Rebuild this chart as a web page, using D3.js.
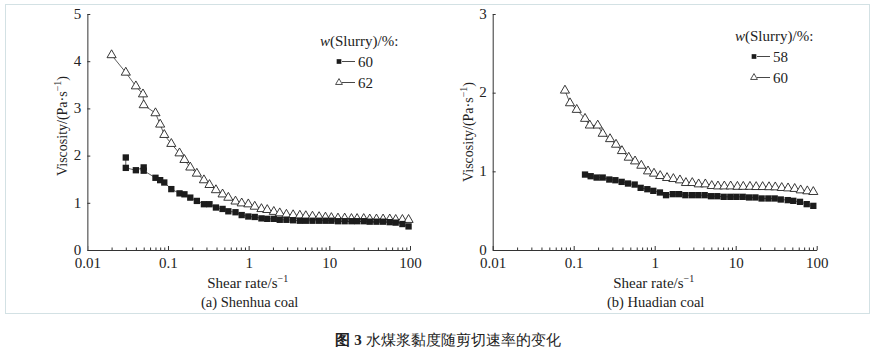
<!DOCTYPE html>
<html><head><meta charset="utf-8">
<script src="https://cdn.jsdelivr.net/npm/d3@7"></script>
<style>
body{margin:0;background:#fff}
svg{display:block}
text{font-family:"Liberation Serif","Times New Roman",serif;fill:#222}
</style>
</head><body>
<svg id="c" width="882" height="355"></svg>
<script>
// ---- data ----
// (a) Shenhua coal, w = 60 %
const shearA60 = [0.03,0.03,0.04,0.05,0.05,0.07,0.08,0.09,0.11,0.139,0.16,0.189,0.228,0.279,0.327,0.393,0.475,0.56,0.687,0.82,0.99,1.19,1.44,1.70,2.05,2.43,2.94,3.56,4.31,5.11,6.18,7.47,8.95,10.6,12.8,15.5,18.8,22.1,26.7,31.7,38.4,46.4,56.1,66.5,80.5,96];
const viscA60  = [1.96,1.74,1.69,1.75,1.68,1.53,1.48,1.43,1.29,1.20,1.18,1.11,1.04,0.97,0.97,0.90,0.87,0.82,0.80,0.74,0.71,0.70,0.67,0.66,0.66,0.64,0.64,0.63,0.62,0.62,0.62,0.62,0.62,0.62,0.61,0.61,0.61,0.61,0.61,0.60,0.60,0.60,0.59,0.58,0.55,0.50];
// (a) Shenhua coal, w = 62 %
const shearA62 = [0.02,0.03,0.04,0.049,0.05,0.07,0.08,0.09,0.11,0.139,0.16,0.189,0.228,0.279,0.327,0.393,0.475,0.56,0.687,0.82,0.99,1.19,1.44,1.70,2.05,2.43,2.94,3.56,4.31,5.11,6.18,7.47,8.95,10.6,12.8,15.5,18.8,22.1,26.7,31.7,38.4,46.4,56.1,66.5,80.5,96];
const viscA62  = [4.13,3.76,3.47,3.30,3.07,2.90,2.66,2.44,2.25,2.05,1.91,1.75,1.62,1.48,1.38,1.27,1.18,1.11,1.03,0.99,0.97,0.92,0.87,0.85,0.81,0.78,0.75,0.74,0.73,0.72,0.71,0.70,0.69,0.68,0.67,0.67,0.66,0.66,0.66,0.65,0.65,0.65,0.65,0.64,0.64,0.64];
// (b) Huadian coal, w = 58 %
const shearB58 = [0.138,0.162,0.192,0.228,0.275,0.327,0.391,0.468,0.566,0.671,0.811,0.961,1.16,1.38,1.67,2.0,2.39,2.88,3.45,4.14,4.95,5.93,7.11,8.58,10.2,12.2,14.6,17.5,20.9,25.3,30.3,36.0,43.9,51.4,62.2,75.3,90.8];
const viscB58  = [0.959,0.938,0.921,0.921,0.896,0.887,0.866,0.845,0.832,0.790,0.773,0.752,0.731,0.697,0.710,0.710,0.697,0.697,0.697,0.697,0.684,0.684,0.676,0.676,0.676,0.676,0.668,0.668,0.655,0.655,0.655,0.642,0.634,0.625,0.612,0.583,0.561];
// (b) Huadian coal, w = 60 %
const shearB60 = [0.078,0.090,0.109,0.138,0.158,0.198,0.228,0.281,0.333,0.394,0.478,0.572,0.684,0.827,0.98,1.17,1.42,1.70,2.05,2.43,2.91,3.49,4.22,5.06,6.04,7.24,8.67,10.5,12.4,15.0,17.9,21.5,25.8,30.8,37.0,44.3,53.5,63.4,76.6,90.8];
const viscB60  = [2.028,1.867,1.783,1.669,1.584,1.584,1.479,1.411,1.340,1.259,1.175,1.128,1.073,1.001,0.972,0.942,0.917,0.904,0.887,0.853,0.853,0.836,0.836,0.815,0.810,0.810,0.810,0.805,0.805,0.805,0.802,0.802,0.800,0.798,0.790,0.785,0.778,0.760,0.748,0.739];

const xTickValues = [0.01,0.1,1,10,100];
const xTickLabels = ["0.01","0.1","1","10","100"];
const yTicksA = [0,1,2,3,4,5];
const yTicksB = [0,1,2,3];
const legendTitle = ["w","(Slurry)/%:"];
const legendA = ["60","62"];
const legendB = ["58","60"];
const xTitle = "Shear rate/s";
const yTitle = "Viscosity/(Pa·s";
const subTitles = ["(a) Shenhua coal","(b) Huadian coal"];
const captionBold = "图 3";
const captionText = "水煤浆黏度随剪切速率的变化";

// ---- drawing ----
const svg = d3.select("#c");
svg.append("rect").attr("x",5.5).attr("y",4.5).attr("width",864).attr("height",309)
  .attr("fill","none").attr("stroke","#d3e1e4").attr("stroke-width",1);

const minorVals = [];
[0.01,0.1,1,10].forEach(d=>{for(let k=2;k<=9;k++) minorVals.push(+(d*k).toPrecision(3));});

const panels = [
  {x0:87.3,x1:410,yTop:14,yMax:5,yTicks:yTicksA,
   series:[{x:shearA62,y:viscA62,shape:"tri"},{x:shearA60,y:viscA60,shape:"sq"}],
   legend:legendA, lgX:320, lgY:46, lgItemX:339, yTitleX:67, yTitleY:126, yAxisColor:"#777", yAxisW:1.5,
   sub:subTitles[0]},
  {x0:492.7,x1:816.7,yTop:14,yMax:3,yTicks:yTicksB,
   series:[{x:shearB60,y:viscB60,shape:"tri"},{x:shearB58,y:viscB58,shape:"sq"}],
   legend:legendB, lgX:735, lgY:41, lgItemX:754, yTitleX:473, yTitleY:132, yAxisColor:"#333", yAxisW:1,
   sub:subTitles[1]}
];

const symSq = d3.symbol().type(d3.symbolSquare).size(40);
const symTri = d3.symbol().type(d3.symbolTriangle).size(36);
const symSqL = d3.symbol().type(d3.symbolSquare).size(22);
const symTriL = d3.symbol().type(d3.symbolTriangle).size(20);

panels.forEach(p=>{
  const x = d3.scaleLog().domain([0.01,100]).range([p.x0,p.x1]);
  const y = d3.scaleLinear().domain([0,p.yMax]).range([250,p.yTop]);
  const g = svg.append("g");

  // x axis major
  const xa = g.append("g").attr("transform","translate(0,250)")
    .call(d3.axisBottom(x).tickValues(xTickValues).tickFormat((d,i)=>xTickLabels[i]).tickSize(-4).tickSizeOuter(0).tickPadding(9));
  xa.select(".domain").attr("stroke","#333");
  xa.selectAll(".tick line").attr("stroke","#333");
  xa.selectAll("text").attr("font-size",15).attr("font-family","Liberation Serif").attr("fill","#222").attr("dy","0.6em");
  // x axis minor
  const xm = g.append("g").attr("transform","translate(0,250)")
    .call(d3.axisBottom(x).tickValues(minorVals).tickFormat("").tickSize(-2.5).tickSizeOuter(0));
  xm.select(".domain").remove();
  xm.selectAll(".tick line").attr("stroke","#333");

  // y axis
  const ya = g.append("g").attr("transform",`translate(${p.x0},0)`)
    .call(d3.axisLeft(y).tickValues(p.yTicks).tickFormat(d3.format("d")).tickSize(-3).tickSizeOuter(0).tickPadding(6));
  ya.select(".domain").attr("stroke",p.yAxisColor).attr("stroke-width",p.yAxisW);
  ya.selectAll(".tick line").attr("stroke","#333");
  ya.selectAll("text").attr("font-size",15).attr("font-family","Liberation Serif").attr("fill","#222").attr("dy","0.28em");

  // series
  p.series.forEach(s=>{
    const pts = s.x.map((v,i)=>[x(v),y(s.y[i])]);
    g.append("path").attr("d",d3.line()(pts)).attr("fill","none").attr("stroke","#333").attr("stroke-width",0.8);
    g.selectAll(null).data(pts).enter().append("path")
      .attr("transform",d=>`translate(${d[0]},${d[1]})`)
      .attr("d",s.shape==="sq"?symSq:symTri)
      .attr("fill",s.shape==="sq"?"#1c1c1c":"#fff")
      .attr("stroke",s.shape==="sq"?"none":"#222")
      .attr("stroke-width",0.9);
  });

  // legend
  const lt = g.append("text").attr("x",p.lgX).attr("y",p.lgY).attr("font-size",15);
  lt.append("tspan").attr("font-style","italic").text(legendTitle[0]);
  lt.append("tspan").text(legendTitle[1]);
  p.legend.forEach((lab,i)=>{
    const yy = p.lgY + 20 + i*21 - 4.5;
    g.append("path").attr("transform",`translate(${p.lgItemX},${yy})`)
      .attr("d",i===0?symSqL:symTriL).attr("fill",i===0?"#1c1c1c":"#fff").attr("stroke",i===0?"none":"#222").attr("stroke-width",0.8);
    g.append("line").attr("x1",p.lgItemX+3).attr("x2",p.lgItemX+16).attr("y1",yy).attr("y2",yy).attr("stroke","#333").attr("stroke-width",0.9);
    g.append("text").attr("x",p.lgItemX+19).attr("y",yy+5).attr("font-size",15).text(lab);
  });

  // x title
  const cx = (p.x0+p.x1)/2 - 1;
  const xt = g.append("text").attr("x",cx).attr("y",288).attr("font-size",15).attr("text-anchor","middle");
  xt.append("tspan").text(xTitle);
  xt.append("tspan").attr("font-size",10).attr("dy",-6).text("−1");
  g.append("text").attr("x",cx+2).attr("y",307).attr("font-size",14.5).attr("text-anchor","middle").text(p.sub);

  // y title
  const yt = g.append("text").attr("transform",`translate(${p.yTitleX},${p.yTitleY}) rotate(-90)`)
    .attr("font-size",14).attr("text-anchor","middle");
  yt.append("tspan").text(yTitle);
  yt.append("tspan").attr("font-size",10).attr("dy",-6).text("−1");
  yt.append("tspan").attr("dy",6).text(")");
});

// caption
const cap = svg.append("text").attr("x",448).attr("y",345).attr("text-anchor","middle")
  .attr("font-family","'Noto Sans CJK SC','Noto Sans',sans-serif").attr("font-size",15).attr("fill","#333");
cap.append("tspan").attr("font-weight","bold").text(captionBold);
cap.append("tspan").attr("dx",4).text(captionText);
</script>
</body></html>
